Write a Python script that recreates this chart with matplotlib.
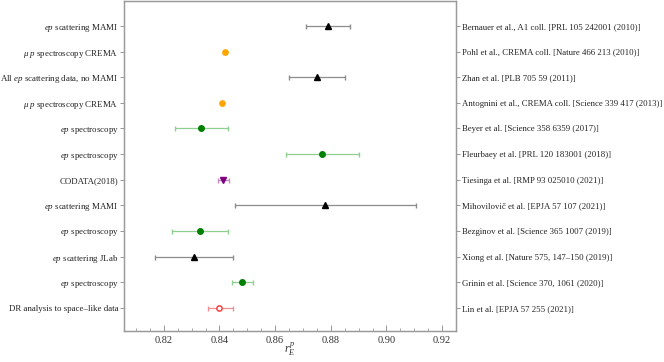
import matplotlib.pyplot as plt
import numpy as np

# data, top to bottom
left_labels = [r"$ep$ scattering MAMI", r"$\mu\ p$ spectroscopy CREMA", r"All $ep$ scattering data, no MAMI",
               r"$\mu\ p$ spectroscopy CREMA", r"$ep$ spectroscopy", r"$ep$ spectroscopy", "CODATA(2018)",
               r"$ep$ scattering MAMI", r"$ep$ spectroscopy", r"$ep$ scattering JLab", r"$ep$ spectroscopy",
               "DR analysis to space\u2013like data"]
right_labels = ["Bernauer et al., A1 coll. [PRL 105 242001 (2010)]",
                "Pohl et al., CREMA coll. [Nature 466 213 (2010)]",
                "Zhan et al. [PLB 705 59 (2011)]",
                "Antognini et al., CREMA coll. [Science 339 417 (2013)]",
                "Beyer et al. [Science 358 6359 (2017)]",
                "Fleurbaey et al. [PRL 120 183001 (2018)]",
                "Tiesinga et al. [RMP 93 025010 (2021)]",
                "Mihovilovi\u010d et al. [EPJA 57 107 (2021)]",
                "Bezginov et al. [Science 365 1007 (2019)]",
                "Xiong et al. [Nature 575, 147\u2013150 (2019)]",
                "Grinin et al. [Science 370, 1061 (2020)]",
                "Lin et al. [EPJA 57 255 (2021)]"]
radius = [0.879, 0.84184, 0.875, 0.84087, 0.8335, 0.877, 0.8414, 0.878, 0.833, 0.831, 0.8482, 0.840]
err_lo = [0.008, 0.00067, 0.010, 0.00039, 0.0095, 0.013, 0.0019, 0.0325, 0.010, 0.014, 0.0038, 0.004]
err_hi = [0.008, 0.00067, 0.010, 0.00039, 0.0095, 0.013, 0.0019, 0.0325, 0.010, 0.014, 0.0038, 0.005]
kind = ["scat", "muon", "scat", "muon", "spec", "spec", "codata", "scat", "spec", "scat", "spec", "dr"]

styles = {
    "scat": dict(marker="^", mfc="black", mec="black", ecolor="#8c8c8c", ms=3.8),
    "muon": dict(marker="o", mfc="#ffa500", mec="#ffa500", ecolor="#ffd080", ms=3.8),
    "spec": dict(marker="o", mfc="#008000", mec="#008000", ecolor="#8fcf8f", ms=4),
    "codata": dict(marker="v", mfc="#800080", mec="#800080", ecolor="#c88ac8", ms=3.8),
    "dr": dict(marker="o", mfc="white", mec="#ff3030", ecolor="#f09090", ms=3.8),
}

plt.rcParams['font.family'] = ['Liberation Serif', 'DejaVu Serif']
plt.rcParams['mathtext.fontset'] = 'custom'
plt.rcParams['mathtext.rm'] = 'Liberation Serif'
plt.rcParams['mathtext.it'] = 'Liberation Serif:italic'

fig = plt.figure(figsize=(6.64, 3.62), dpi=100)
ax = fig.add_axes([124 / 664, 31 / 362, 332 / 664, 330 / 362])

n = len(radius)
ypos = np.arange(n, 0, -1)
for i in range(n):
    s = styles[kind[i]]
    ax.errorbar(radius[i], ypos[i], xerr=[[err_lo[i]], [err_hi[i]]], fmt=s["marker"],
                mfc=s["mfc"], mec=s["mec"], ms=s["ms"], mew=1, ecolor=s["ecolor"],
                elinewidth=0.9, capsize=1.8, capthick=0.9, zorder=3)

ax.set_xlim(0.8057, 0.925)
ax.set_ylim(0.1, 12.97)
ax.set_xticks([0.82, 0.84, 0.86, 0.88, 0.90, 0.92])
ax.set_xticklabels(["0.82", "0.84", "0.86", "0.88", "0.90", "0.92"])
ax.set_xticks(np.arange(0.81, 0.925, 0.005), minor=True)
ax.tick_params(axis="x", direction="in", length=4, width=0.6, color="#888888", labelsize=7.5, labelcolor="#333333")
ax.tick_params(axis="x", which="minor", direction="in", length=2, width=0.5, color="#888888")
ax.set_yticks(ypos)
ax.set_yticklabels(left_labels)
ax.tick_params(axis="y", direction="out", length=3, width=0.6, color="#888888", labelsize=6.4, labelcolor="#222222", pad=1)
ax.set_xlabel(r"$r_E^p$", fontsize=8.5, color="#333333")
ax.xaxis.set_label_coords(0.5, -0.03)
ax.xaxis.label.set_va("top")

ax2 = ax.twinx()
ax2.set_ylim(ax.get_ylim())
ax2.set_yticks(ypos)
ax2.set_yticklabels(right_labels)
ax2.tick_params(axis="y", direction="out", length=3, width=0.6, color="#888888", labelsize=6.3, labelcolor="#222222", pad=1)

for a in (ax, ax2):
    for sp in a.spines.values():
        sp.set_color("#9a9a9a")
        sp.set_linewidth(0.9)

fig.savefig("out.png", dpi=100)
